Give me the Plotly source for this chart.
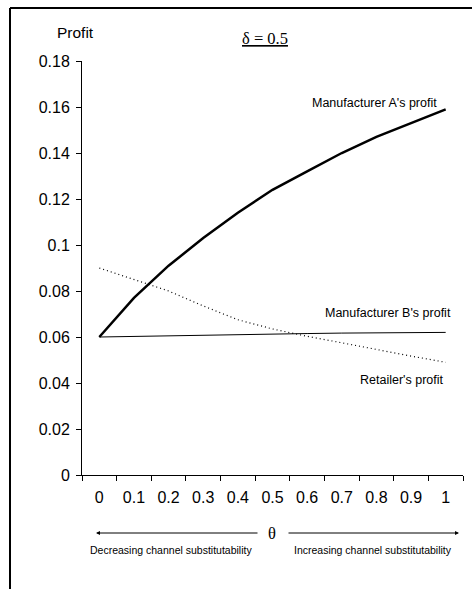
import plotly.graph_objects as go

theta = ["0", "0.1", "0.2", "0.3", "0.4", "0.5", "0.6", "0.7", "0.8", "0.9", "1"]
profit_a = [0.060, 0.077, 0.091, 0.103, 0.114, 0.124, 0.132, 0.140, 0.147, 0.153, 0.159]
profit_b = [0.0600, 0.0603, 0.0606, 0.0609, 0.0611, 0.0613, 0.0615, 0.0617, 0.0618, 0.0619, 0.0620]
profit_r = [0.0900, 0.0850, 0.0800, 0.0735, 0.0675, 0.0635, 0.0603, 0.0575, 0.0545, 0.0517, 0.0490]
y_ticks = [0, 0.02, 0.04, 0.06, 0.08, 0.1, 0.12, 0.14, 0.16, 0.18]
y_ticktext = ["0", "0.02", "0.04", "0.06", "0.08", "0.1", "0.12", "0.14", "0.16", "0.18"]

W, H = 472, 589
L, R, T, B = 82, 463, 61, 475  # plot area in pixels

def px(x):
    return (x - L) / (R - L)

def py(y):
    return (B - y) / (B - T)

SANS = "Liberation Sans, Arial, sans-serif"
SERIF = "Liberation Serif, Times New Roman, serif"

fig = go.Figure()
fig.add_trace(go.Scatter(x=theta, y=profit_a, mode="lines",
                         line=dict(color="black", width=2.5), showlegend=False))
fig.add_trace(go.Scatter(x=theta, y=profit_b, mode="lines",
                         line=dict(color="black", width=1), showlegend=False))
fig.add_trace(go.Scatter(x=theta, y=profit_r, mode="lines",
                         line=dict(color="black", width=1.2, dash="1px,3px"), showlegend=False))

fig.update_layout(
    width=W, height=H,
    margin=dict(l=L, r=W - R, t=T, b=H - B, pad=0),
    paper_bgcolor="white", plot_bgcolor="white",
    font=dict(family=SANS, color="black"),
    hovermode=False,
    xaxis=dict(type="category", range=[-0.5, 10.5], showgrid=False, zeroline=False,
               showline=True, linecolor="black", linewidth=1,
               ticks="outside", ticklen=5, tickcolor="black", tickson="boundaries",
               ticklabelstandoff=8,
               tickfont=dict(size=16, family=SANS)),
    yaxis=dict(range=[0, 0.18], tickvals=y_ticks, ticktext=y_ticktext,
               showgrid=False, zeroline=False, showline=True, linecolor="black",
               linewidth=1, ticks="outside", ticklen=5, tickcolor="black",
               ticklabelstandoff=3,
               tickfont=dict(size=16, family=SANS)),
)

ann = []
def text(x, y, s, size, family=SANS, xanchor="center"):
    ann.append(dict(x=px(x), y=py(y), xref="paper", yref="paper", text=s,
                    showarrow=False, xanchor=xanchor, yanchor="middle",
                    font=dict(size=size, family=family, color="black")))

text(75, 33, "Profit", 15.5)
text(265, 39, "<u>δ = 0.5</u>", 16.5, SERIF)
text(310, 103, "Manufacturer A's profit", 12.5, xanchor="left")
text(323, 313, "Manufacturer B's profit", 12.5, xanchor="left")
text(358, 380, "Retailer's profit", 12.5, xanchor="left")
text(272, 533, "θ", 16.5, SERIF)
text(171, 550, "Decreasing channel substitutability", 10.5)
text(373, 550, "Increasing channel substitutability", 10.5)

# arrows on either side of theta
for x_head, x_tail in [(96, 259), (459, 287)]:
    ann.append(dict(x=px(x_head), y=py(533), xref="paper", yref="paper",
                    ax=x_tail - x_head, ay=0, axref="pixel", ayref="pixel",
                    text="", showarrow=True, arrowhead=2, arrowsize=0.8,
                    arrowwidth=1, arrowcolor="black"))
fig.update_layout(annotations=ann)

# outer frame (top and left edges only)
fig.add_shape(type="line", xref="paper", yref="paper",
              x0=px(10), y0=py(8), x1=px(W), y1=py(8),
              line=dict(color="black", width=2))
fig.add_shape(type="line", xref="paper", yref="paper",
              x0=px(10), y0=py(8), x1=px(10), y1=py(H),
              line=dict(color="black", width=2))

fig.write_html(
    "out.html",
    config={"displayModeBar": False, "staticPlot": True},
    post_script=("document.body.style.margin='0';"
                 "document.body.style.overflow='hidden';"
                 "document.documentElement.style.overflow='hidden';"),
)
